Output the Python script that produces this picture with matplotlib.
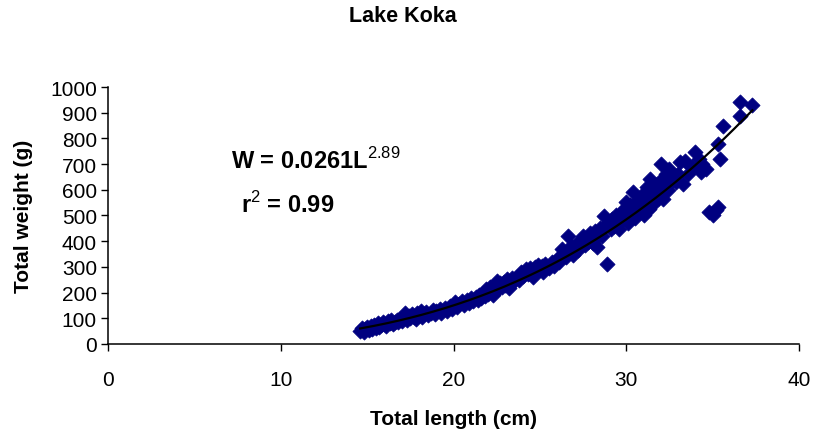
import numpy as np
import matplotlib
matplotlib.use('Agg')
import matplotlib.pyplot as plt

# total length (cm) and total weight (g)
length = [14.6, 14.7, 14.8, 14.9, 15.0, 15.1, 15.2, 15.3, 15.4, 15.5, 15.6, 15.7, 15.8, 15.9, 16.0,
          16.1, 16.2, 16.3, 16.4, 16.5, 16.6, 16.7, 16.8, 16.9, 17.0,
          17.1, 17.2, 17.3, 17.4, 17.5, 17.6, 17.7, 17.8, 17.9, 18.0, 18.1, 18.2, 18.3, 18.4, 18.5,
          18.7, 18.8, 18.9, 19.0, 19.2, 19.3, 19.5, 19.6, 19.8, 19.9,
          20.0, 20.1, 20.2, 20.3, 20.5, 20.6, 20.8, 20.9, 21.0, 21.1, 21.3, 21.4, 21.5, 21.6, 21.7,
          21.8, 21.9, 22.0, 22.1, 22.2, 22.3, 22.4, 22.5, 22.6, 22.7, 22.8, 22.9, 23.0, 23.1, 23.2,
          23.3, 23.4, 23.5, 23.7, 23.8, 23.9, 24.0, 24.2, 24.3, 24.4, 24.5, 24.6, 24.7, 24.8, 24.9,
          25.0, 25.1, 25.2, 25.3, 25.5, 25.7, 25.8, 26.0, 26.1, 26.2,
          26.3, 26.4, 26.5, 26.6, 26.7, 26.8, 26.9, 27.0, 27.1, 27.2, 27.4, 27.5, 27.6, 27.7, 27.8,
          27.9, 28.0, 28.1, 28.2, 28.3,
          28.4, 28.5, 28.6, 28.7, 28.8, 28.9, 29.0, 29.1, 29.2, 29.3, 29.4, 29.5, 29.6, 29.7, 29.8,
          29.9, 30.0, 30.0, 30.1, 30.2, 30.3, 30.4, 30.5, 30.6, 30.7,
          30.8, 30.9, 31.0, 31.0, 31.1, 31.2, 31.3, 31.4, 31.5, 31.5, 31.6, 31.7, 31.8, 31.9, 32.0,
          32.0, 32.1, 32.2, 32.3, 32.4, 32.5, 32.7, 32.9, 33.0, 33.1,
          33.3, 33.4, 33.6, 33.8, 34.0, 34.2, 34.3, 34.4, 34.6, 34.8, 35.0, 35.2, 35.3, 35.3, 35.4,
          35.6, 36.6, 36.6, 37.3]
weight = [52, 62, 48, 58, 66, 55, 70, 60, 74, 64, 80, 68, 72, 84, 76,
          70, 88, 80, 92, 78, 86, 95, 84, 98, 90,
          105, 120, 92, 110, 100, 118, 106, 96, 122, 112, 130, 104, 118, 126, 112,
          122, 132, 116, 128, 138, 122, 140, 130, 146, 136,
          150, 162, 144, 156, 168, 152, 172, 160, 178, 166, 184, 172, 190, 178, 198,
          186, 214, 196, 222, 204, 190, 230, 246, 214, 236, 220, 240, 228, 252, 218,
          236, 258, 244, 262, 250, 280, 266, 290, 272, 296, 280, 262, 300, 286, 306,
          292, 304, 282, 310, 296, 318, 304, 330, 320, 344,
          370, 356, 338, 420, 360, 380, 346, 372, 390, 364, 400, 420, 386, 410, 396,
          430, 412, 392, 440, 378,
          428, 450, 420, 498, 462, 311, 470, 448, 486, 460, 500, 476, 447, 510, 488,
          530, 553, 500, 470, 540, 520, 591, 490, 514, 560,
          530, 580, 564, 500, 548, 610, 526, 642, 580, 540, 600, 620, 603, 570, 700,
          640, 564, 620, 660, 600, 680, 640, 630, 660, 708,
          623, 712, 660, 690, 747, 720, 669, 700, 680, 514, 500, 520, 533, 778, 720,
          848, 887, 940, 930]

# power trendline as printed on the chart: W = a * L^b
a, b = 0.0261, 2.89
fit_range = [14.6, 37.3]

plt.rcParams['font.family'] = ['Liberation Sans', 'DejaVu Sans']
plt.rcParams['mathtext.fontset'] = 'custom'
plt.rcParams['mathtext.rm'] = 'Liberation Sans'

fig = plt.figure(figsize=(8.14, 4.35), dpi=100)
ax = fig.add_axes([0.1327, 0.2069, 0.8489, 0.5908])

ax.scatter(length, weight, marker='D', s=60, color='#000080', edgecolors='#000080',
           linewidths=0.5, zorder=2)
L = np.linspace(fit_range[0], fit_range[1], 200)
ax.plot(L, a * L ** b, color='black', linewidth=1.6, zorder=3)

ax.set_xlim(0, 40)
ax.set_ylim(0, 1000)
ax.set_xticks([0, 10, 20, 30, 40])
ax.set_yticks(range(0, 1001, 100))
ax.tick_params(direction='out', length=5, width=1, labelsize=15)
ax.tick_params(axis='x', pad=14)
ax.tick_params(axis='y', pad=3)
for s in ['top', 'right']:
    ax.spines[s].set_visible(False)
for s in ['left', 'bottom']:
    ax.spines[s].set_linewidth(1.1)

ax.set_xlabel('Total length (cm)', fontsize=15, fontweight='bold', labelpad=14)
ax.set_ylabel('Total weight (g)', fontsize=15, fontweight='bold', labelpad=12)

fig.text(0.495, 0.962, 'Lake Koka', ha='center', va='center', fontsize=15.5, fontweight='bold')

ax.text(12.0, 715, r'W = 0.0261L$^{\mathrm{2.89}}$', ha='center', va='center',
        fontsize=17, fontweight='bold')
ax.text(10.4, 545, r'r$^{\mathrm{2}}$ = 0.99', ha='center', va='center',
        fontsize=17, fontweight='bold')

fig.savefig('out.png', dpi=100)
